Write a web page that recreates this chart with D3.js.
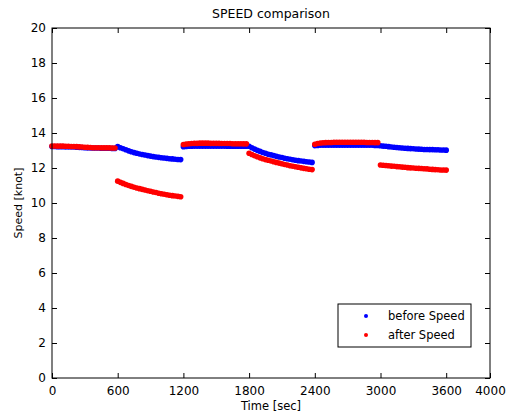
<!DOCTYPE html>
<html>
<head>
<meta charset="utf-8">
<script src="https://cdn.jsdelivr.net/npm/d3@7"></script>
<style>
  html, body { margin: 0; padding: 0; background: #fff; }
  svg { display: block; }
  text { font-family: "DejaVu Sans", sans-serif; fill: #000; }
</style>
</head>
<body>
<svg id="chart" width="515" height="417"></svg>
<script>
// ---- data ----
const timeSec = [
  0, 25, 50, 75, 100, 125, 150, 175, 200, 225, 250, 275, 300, 325, 350, 375, 400, 425, 450, 475, 500, 525, 550, 575,
  600, 625, 650, 675, 700, 725, 750, 775, 800, 825, 850, 875, 900, 925, 950, 975, 1000, 1025, 1050, 1075, 1100, 1125, 1150, 1175,
  1200, 1225, 1250, 1275, 1300, 1325, 1350, 1375, 1400, 1425, 1450, 1475, 1500, 1525, 1550, 1575, 1600, 1625, 1650, 1675, 1700, 1725, 1750, 1775,
  1800, 1825, 1850, 1875, 1900, 1925, 1950, 1975, 2000, 2025, 2050, 2075, 2100, 2125, 2150, 2175, 2200, 2225, 2250, 2275, 2300, 2325, 2350, 2375,
  2400, 2425, 2450, 2475, 2500, 2525, 2550, 2575, 2600, 2625, 2650, 2675, 2700, 2725, 2750, 2775, 2800, 2825, 2850, 2875, 2900, 2925, 2950, 2975,
  3000, 3025, 3050, 3075, 3100, 3125, 3150, 3175, 3200, 3225, 3250, 3275, 3300, 3325, 3350, 3375, 3400, 3425, 3450, 3475, 3500, 3525, 3550, 3575, 3600
];
const beforeSpeed = [
  13.23, 13.23, 13.22, 13.22, 13.22, 13.21, 13.21, 13.20, 13.20, 13.19, 13.18, 13.17, 13.16, 13.15, 13.15, 13.14, 13.14, 13.14, 13.13, 13.13, 13.13, 13.13, 13.12, 13.12,
  13.22, 13.16, 13.10, 13.04, 12.98, 12.93, 12.88, 12.84, 12.80, 12.77, 12.74, 12.71, 12.68, 12.65, 12.63, 12.61, 12.59, 12.57, 12.55, 12.53, 12.52, 12.50, 12.49, 12.48,
  13.22, 13.23, 13.24, 13.24, 13.25, 13.25, 13.25, 13.25, 13.25, 13.25, 13.25, 13.25, 13.25, 13.25, 13.25, 13.25, 13.24, 13.24, 13.24, 13.24, 13.24, 13.24, 13.24, 13.24,
  13.24, 13.16, 13.08, 13.01, 12.95, 12.89, 12.84, 12.79, 12.75, 12.71, 12.67, 12.63, 12.60, 12.56, 12.53, 12.50, 12.47, 12.44, 12.42, 12.40, 12.38, 12.36, 12.34, 12.32,
  13.28, 13.29, 13.30, 13.30, 13.30, 13.30, 13.30, 13.30, 13.30, 13.30, 13.30, 13.30, 13.30, 13.30, 13.30, 13.30, 13.30, 13.30, 13.30, 13.30, 13.30, 13.30, 13.29, 13.29,
  13.27, 13.25, 13.24, 13.22, 13.20, 13.19, 13.17, 13.16, 13.14, 13.13, 13.12, 13.11, 13.10, 13.09, 13.08, 13.07, 13.06, 13.06, 13.05, 13.05, 13.04, 13.04, 13.03, 13.03, 13.02
];
const afterSpeed = [
  13.26, 13.26, 13.25, 13.25, 13.25, 13.24, 13.24, 13.23, 13.23, 13.22, 13.21, 13.20, 13.19, 13.18, 13.17, 13.16, 13.16, 13.16, 13.15, 13.15, 13.15, 13.15, 13.14, 13.14,
  11.25, 11.18, 11.12, 11.06, 11.00, 10.95, 10.90, 10.86, 10.82, 10.78, 10.74, 10.70, 10.67, 10.63, 10.60, 10.56, 10.53, 10.50, 10.47, 10.44, 10.42, 10.40, 10.38, 10.36,
  13.34, 13.37, 13.39, 13.40, 13.41, 13.41, 13.42, 13.42, 13.42, 13.42, 13.41, 13.41, 13.41, 13.41, 13.40, 13.40, 13.40, 13.40, 13.39, 13.39, 13.39, 13.39, 13.38, 13.38,
  12.84, 12.77, 12.70, 12.64, 12.58, 12.53, 12.48, 12.44, 12.40, 12.36, 12.32, 12.28, 12.24, 12.20, 12.17, 12.13, 12.10, 12.07, 12.04, 12.01, 11.98, 11.96, 11.93, 11.91,
  13.36, 13.40, 13.43, 13.44, 13.45, 13.46, 13.46, 13.47, 13.47, 13.47, 13.47, 13.47, 13.47, 13.47, 13.47, 13.47, 13.47, 13.47, 13.47, 13.46, 13.46, 13.46, 13.45, 13.45,
  12.17, 12.16, 12.14, 12.13, 12.11, 12.10, 12.08, 12.07, 12.05, 12.04, 12.02, 12.01, 12.00, 11.99, 11.98, 11.97, 11.96, 11.95, 11.93, 11.92, 11.91, 11.90, 11.89, 11.89, 11.88
];
const xTicks = [0, 600, 1200, 1800, 2400, 3000, 3600, 4000];
const yTicks = [0, 2, 4, 6, 8, 10, 12, 14, 16, 18, 20];
const seriesNames = ["before Speed", "after Speed"];
const seriesColors = ["#0000ff", "#ff0000"];

// ---- layout ----
const padL = 52, padR = 490, padT = 28, padB = 378;
const svg = d3.select("#chart");

const x = d3.scaleLinear().domain([0, 4000]).range([padL, padR]);
const y = d3.scaleLinear().domain([0, 20]).range([padB, padT]);

// data points
const series = [beforeSpeed, afterSpeed];
series.forEach((vals, si) => {
  svg.append("g")
    .selectAll("circle")
    .data(timeSec.map((t, i) => [t, vals[i]]))
    .join("circle")
    .attr("cx", d => x(d[0]))
    .attr("cy", d => y(d[1]))
    .attr("r", 2.8)
    .attr("fill", seriesColors[si]);
});

// axes (ticks inward on all sides)
const fmt = d3.format("d");
const axB = svg.append("g").attr("transform", `translate(0,${padB})`)
  .call(d3.axisBottom(x).tickValues(xTicks).tickFormat(fmt).tickSizeInner(-5).tickSizeOuter(0).tickPadding(8));
const axT = svg.append("g").attr("transform", `translate(0,${padT})`)
  .call(d3.axisTop(x).tickValues(xTicks).tickFormat("").tickSizeInner(-5).tickSizeOuter(0));
const axL = svg.append("g").attr("transform", `translate(${padL},0)`)
  .call(d3.axisLeft(y).tickValues(yTicks).tickFormat(fmt).tickSizeInner(-5).tickSizeOuter(0).tickPadding(6));
const axR = svg.append("g").attr("transform", `translate(${padR},0)`)
  .call(d3.axisRight(y).tickValues(yTicks).tickFormat("").tickSizeInner(-5).tickSizeOuter(0));
[axB, axT, axL, axR].forEach(a => {
  a.select(".domain").remove();
  a.selectAll("line").attr("stroke", "#000");
  a.selectAll("text").attr("font-size", 12).attr("font-family", "DejaVu Sans, sans-serif").attr("fill", "#000");
});

// frame
svg.append("rect")
  .attr("x", padL).attr("y", padT)
  .attr("width", padR - padL).attr("height", padB - padT)
  .attr("fill", "none").attr("stroke", "#000").attr("stroke-width", 1);

// title & labels
svg.append("text").attr("x", (padL + padR) / 2).attr("y", 18)
  .attr("text-anchor", "middle").attr("font-size", 12.5).text("SPEED comparison");
svg.append("text").attr("x", (padL + padR) / 2).attr("y", 410)
  .attr("text-anchor", "middle").attr("font-size", 11.5).text("Time [sec]");
svg.append("text")
  .attr("transform", `translate(22,${(padT + padB) / 2}) rotate(-90)`)
  .attr("text-anchor", "middle").attr("font-size", 11).text("Speed [knot]");

// legend
const lg = svg.append("g");
lg.append("rect").attr("x", 338).attr("y", 304).attr("width", 133).attr("height", 43)
  .attr("fill", "#fff").attr("stroke", "#000");
seriesNames.forEach((name, i) => {
  const cy = 316 + i * 19;
  lg.append("circle").attr("cx", 366).attr("cy", cy).attr("r", 2).attr("fill", seriesColors[i]);
  lg.append("text").attr("x", 388).attr("y", cy + 4).attr("font-size", 11.5).text(name);
});
</script>
</body>
</html>
